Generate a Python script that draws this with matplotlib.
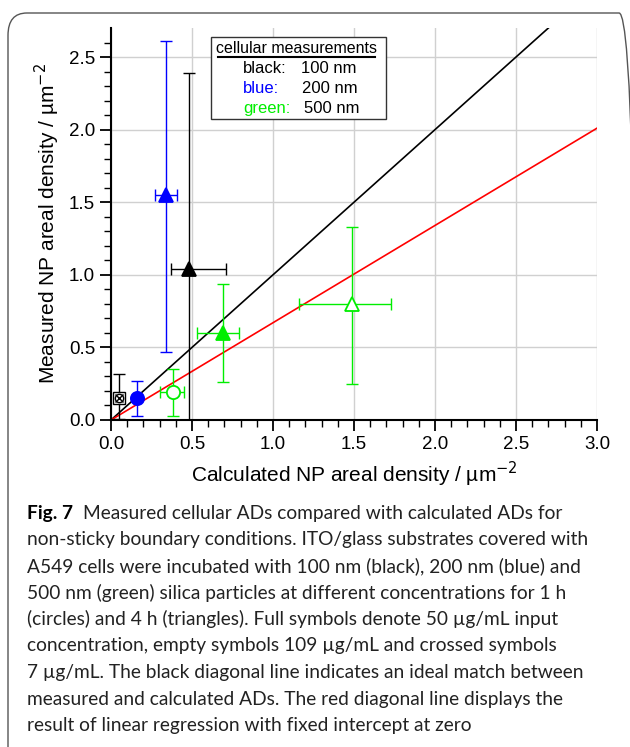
import matplotlib
matplotlib.use('Agg')
import matplotlib.pyplot as plt
from matplotlib.patches import FancyBboxPatch, Rectangle
from matplotlib.lines import Line2D

plt.rcParams['font.family'] = ['Liberation Sans', 'DejaVu Sans']

# measured vs calculated areal densities
calc = [0.05, 0.16, 0.38, 0.69, 1.49, 0.48, 0.34]
meas = [0.15, 0.15, 0.19, 0.60, 0.80, 1.04, 1.55]
x_lo = [0.04, 0.15, 0.30, 0.53, 1.16, 0.37, 0.27]
x_hi = [0.06, 0.17, 0.45, 0.79, 1.73, 0.71, 0.41]
y_lo = [0.01, 0.03, 0.03, 0.26, 0.25, 0.00, 0.47]
y_hi = [0.32, 0.27, 0.35, 0.94, 1.33, 2.39, 2.61]
colors = ['black', '#0000ff', '#00ee00', '#00ee00', '#00ee00', 'black', '#0000ff']
markers = ['s', 'o', 'o', '^', '^', '^', '^']
filled = [False, True, False, True, False, True, True]

ideal_x = [0, 3.0]
ideal_y = [0, 3.0]
fit_slope = 0.67

caption = [
    'non-sticky boundary conditions. ITO/glass substrates covered with',
    'A549 cells were incubated with 100 nm (black), 200 nm (blue) and',
    '500 nm (green) silica particles at different concentrations for 1 h',
    '(circles) and 4 h (triangles). Full symbols denote 50 \u00b5g/mL input',
    'concentration, empty symbols 109 \u00b5g/mL and crossed symbols',
    '7 \u00b5g/mL. The black diagonal line indicates an ideal match between',
    'measured and calculated ADs. The red diagonal line displays the',
    'result of linear regression with fixed intercept at zero',
]

fig = plt.figure(figsize=(6.3, 7.47), dpi=100)
fig.patches.append(FancyBboxPatch((8 / 630, -0.05), 1.0, 0.05 + 1 - 13 / 747,
                                  boxstyle='round,pad=0,rounding_size=0.03',
                                  transform=fig.transFigure, fill=False,
                                  edgecolor='#555555', linewidth=1.0))

ax = fig.add_axes([111 / 630, 1 - 420 / 747, (597 - 111) / 630, (420 - 28) / 747])

ax.plot(ideal_x, ideal_y, color='black', linewidth=1.2, zorder=2)
ax.plot([0, 3.0], [0, 3.0 * fit_slope], color='#ff0000', linewidth=1.2, zorder=2)

for i in range(len(calc)):
    ax.errorbar(calc[i], meas[i],
                xerr=[[calc[i] - x_lo[i]], [x_hi[i] - calc[i]]],
                yerr=[[meas[i] - y_lo[i]], [y_hi[i] - meas[i]]],
                fmt='none', ecolor=colors[i], elinewidth=1.0, capsize=4, zorder=3)
    if markers[i] == 's':
        ax.plot(calc[i], meas[i], marker='s', markersize=8, markerfacecolor='white',
                markeredgecolor='black', markeredgewidth=1.0, zorder=4)
        ax.plot(calc[i], meas[i], marker='o', markersize=6, markerfacecolor='none',
                markeredgecolor='black', markeredgewidth=1.0, zorder=5)
        ax.plot(calc[i], meas[i], marker='x', markersize=6, color='black',
                markeredgewidth=1.0, zorder=5)
    else:
        ax.plot(calc[i], meas[i], marker=markers[i], markersize=9.5,
                markerfacecolor=colors[i] if filled[i] else 'white',
                markeredgecolor=colors[i], markeredgewidth=1.3, zorder=4)

ax.set_xlim(0, 3.0)
ax.set_ylim(0, 2.7)
ax.set_xticks([0, 0.5, 1.0, 1.5, 2.0, 2.5, 3.0])
ax.set_yticks([0, 0.5, 1.0, 1.5, 2.0, 2.5])
ax.set_xticks([i / 10 for i in range(31)], minor=True)
ax.set_yticks([i / 10 for i in range(27)], minor=True)
ax.xaxis.set_major_formatter(plt.FormatStrFormatter('%.1f'))
ax.yaxis.set_major_formatter(plt.FormatStrFormatter('%.1f'))
ax.grid(True, which='major', color='#d0d0d0', linewidth=1.0, zorder=0)
ax.set_axisbelow(True)
ax.spines['top'].set_visible(False)
ax.spines['right'].set_visible(False)
ax.spines['left'].set_linewidth(1.5)
ax.spines['bottom'].set_linewidth(1.5)
ax.tick_params(which='major', direction='out', length=8, width=1.3, labelsize=13.5)
ax.tick_params(which='minor', direction='out', length=5, width=1.0)
ax.set_xlabel('Calculated NP areal density / \u00b5m$^{-2}$', fontsize=15, labelpad=5)
ax.set_ylabel('Measured NP areal density / \u00b5m$^{-2}$', fontsize=15, labelpad=5)

# legend-like text box
ax.add_patch(Rectangle((0.206, 0.768), 0.36, 0.209, transform=ax.transAxes,
                       fill=True, facecolor='white', edgecolor='#333333',
                       linewidth=1.0, zorder=6))
ax.text(0.3815, 0.936, 'cellular measurements', transform=ax.transAxes, ha='center',
        va='baseline', fontsize=11.5, zorder=7)
ax.add_line(Line2D([0.220, 0.543], [0.925, 0.925], transform=ax.transAxes,
                   color='black', linewidth=1.5, zorder=7))
rows = [('black:', '100 nm', 'black'), ('blue:', '200 nm', '#0000ff'),
        ('green:', '500 nm', '#00ee00')]
for k, (name, size, c) in enumerate(rows):
    yy = 0.884 - k * 0.051
    ax.text(0.272, yy, name, transform=ax.transAxes, ha='left', va='baseline',
            fontsize=12, color=c, zorder=7)
    ax.text(0.391 + 0.003 * k, yy, size, transform=ax.transAxes, ha='left', va='baseline',
            fontsize=12, color='black', zorder=7)

# caption
cap_font = ['Lato', 'DejaVu Sans']
cap_size = 13.8
first_y = 1 - 513 / 747
t = fig.text(27 / 630, first_y, 'Fig. 7', fontsize=cap_size, fontweight='bold',
             family=cap_font, va='center', ha='left')
renderer = fig.canvas.get_renderer()
bb = t.get_window_extent(renderer=renderer)
fig.text(bb.x1 / 630 + 10 / 630, first_y,
         'Measured cellular ADs compared with calculated ADs for',
         fontsize=cap_size, family=cap_font, va='center', ha='left', color='#222222')
for k, line in enumerate(caption):
    fig.text(27 / 630, first_y - (k + 1) * 26.6 / 747, line, fontsize=cap_size,
             family=cap_font, va='center', ha='left', color='#222222')

fig.savefig('out.png', dpi=100)
